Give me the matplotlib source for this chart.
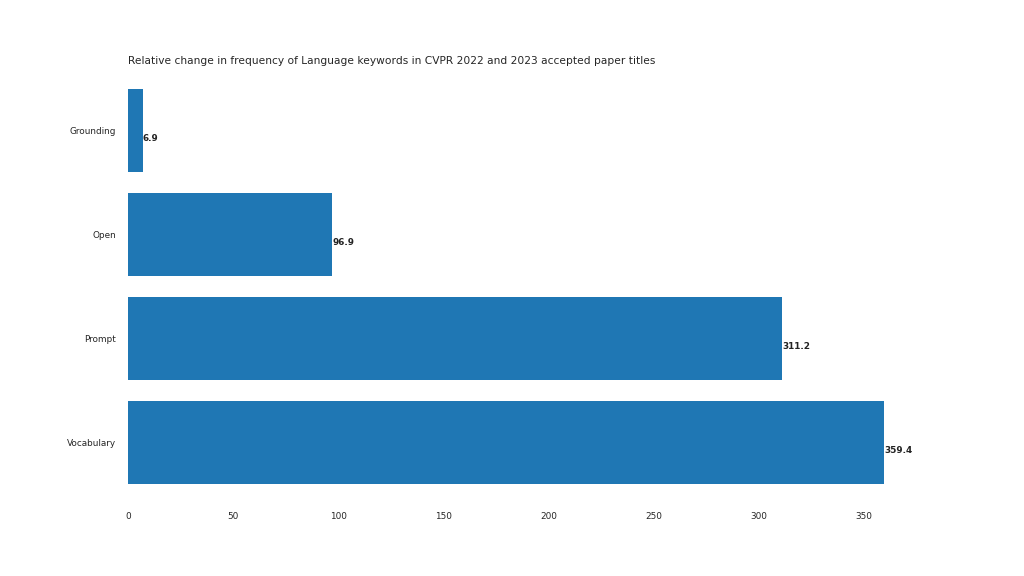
import matplotlib
matplotlib.use("Agg")
from matplotlib import pyplot as plt

keywords = ["Grounding", "Open", "Prompt", "Vocabulary"]
change = [6.9, 96.9, 311.2, 359.4]

plt.rcParams['text.color'] = '#262626'
plt.rcParams['xtick.color'] = '#262626'
plt.rcParams['ytick.color'] = '#262626'

fig, ax = plt.subplots(figsize=(16, 9), dpi=64)
fig.subplots_adjust(bottom=0.125)
ax.barh(keywords, change)

for s in ['top', 'bottom', 'left', 'right']:
    ax.spines[s].set_visible(False)

ax.xaxis.set_ticks_position('none')
ax.yaxis.set_ticks_position('none')
ax.xaxis.set_tick_params(pad=5)
ax.yaxis.set_tick_params(pad=10)

ax.invert_yaxis()

for p in ax.patches:
    plt.text(p.get_width() + 0.2, p.get_y() + 0.5,
             str(round(p.get_width(), 2)),
             fontsize=10, fontweight='bold', color='#222222')

ax.set_title('Relative change in frequency of Language keywords in CVPR 2022 and 2023 accepted paper titles',
             loc='left')

fig.savefig("out.png", dpi=64)
